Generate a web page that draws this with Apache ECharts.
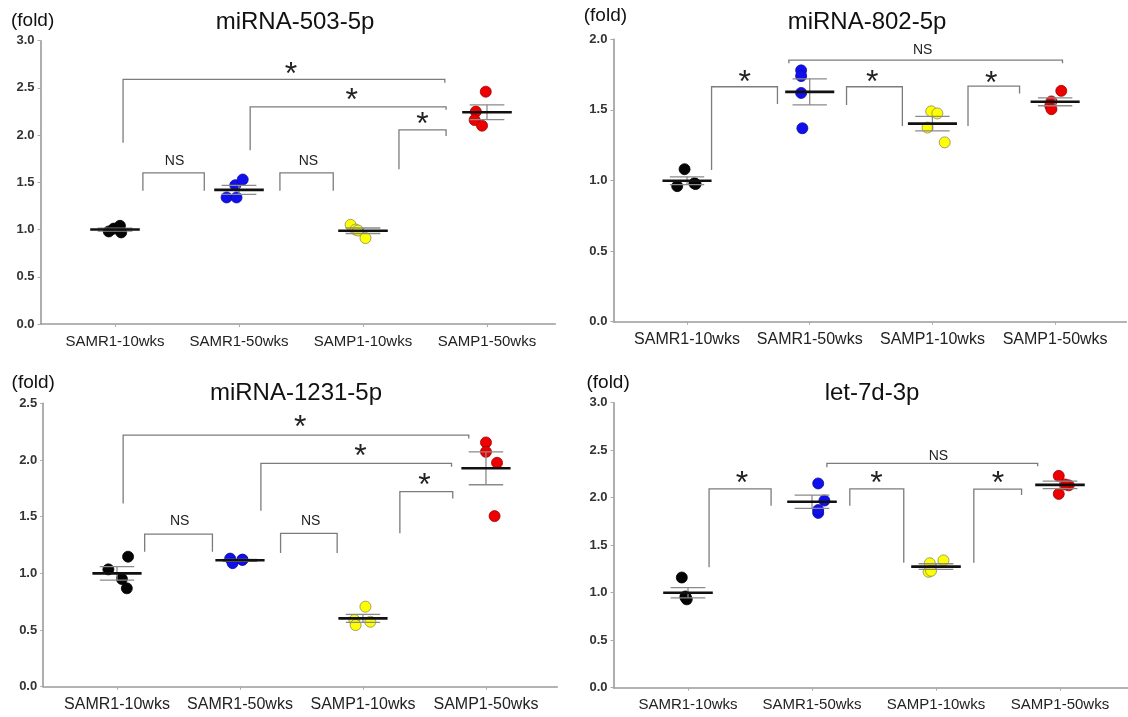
<!DOCTYPE html>
<html>
<head>
<meta charset="utf-8">
<script src="https://cdn.jsdelivr.net/npm/echarts@6/dist/echarts.min.js"></script>
<style>
  html, body { margin: 0; padding: 0; background: #fff; }
  #chart { width: 1128px; height: 717px; }
</style>
</head>
<body>
<div id="chart"></div>
<script>
// ---- data ----
const categories = ['SAMR1-10wks', 'SAMR1-50wks', 'SAMP1-10wks', 'SAMP1-50wks'];
const titles = ['miRNA-503-5p', 'miRNA-802-5p', 'miRNA-1231-5p', 'let-7d-3p'];
const yMax = [3.0, 2.0, 2.5, 3.0];
const yStep = 0.5;

// relative expression (fold), one row per group, 4 animals each
const mir503Values = [[0.98, 1.01, 1.04, 0.97], [1.34, 1.34, 1.47, 1.53], [1.05, 1.00, 0.99, 0.91], [2.46, 2.25, 2.16, 2.10]];
const mir802Values = [[1.08, 0.96, 0.98, 0.975], [1.78, 1.74, 1.62, 1.37], [1.49, 1.475, 1.375, 1.27], [1.635, 1.56, 1.53, 1.505]];
const mir1231Values = [[1.035, 1.147, 0.95, 0.868], [1.13, 1.09, 1.12, 1.12], [0.706, 0.588, 0.544, 0.573], [2.155, 2.072, 1.975, 1.505]];
const let7dValues = [[1.16, 0.95, 0.93, 0.96], [2.15, 1.97, 1.84, 1.87], [1.31, 1.34, 1.22, 1.23], [2.23, 2.13, 2.04, 2.14]];

// horizontal spread of each dot inside its group (category units)
const mir503Jitter = [[-0.05, -0.01, 0.04, 0.05], [-0.10, -0.02, -0.03, 0.03], [-0.10, -0.06, -0.04, 0.02], [-0.01, -0.09, -0.10, -0.04]];
const mir802Jitter = [[-0.02, -0.08, 0.06, 0.07], [-0.07, -0.07, -0.07, -0.06], [-0.01, 0.04, -0.04, 0.10], [0.05, -0.03, -0.04, -0.03]];
const mir1231Jitter = [[-0.07, 0.09, 0.04, 0.08], [-0.08, -0.06, 0.02, 0.02], [0.02, -0.07, -0.06, 0.06], [0.0, 0.0, 0.09, 0.07]];
const let7dJitter = [[-0.05, -0.02, -0.01, -0.02], [0.05, 0.10, 0.05, 0.05], [-0.05, 0.06, -0.06, -0.04], [-0.01, 0.07, -0.01, 0.04]];

// significance brackets: [xLeft, yLeftEnd, yTop, xRight, yRightEnd]
const mir503Brackets = [[0.065, 1.92, 2.59, 2.66, 2.556], [1.09, 1.84, 2.30, 2.67, 2.27], [2.29, 1.64, 2.055, 2.67, 1.99], [0.225, 1.41, 1.60, 0.72, 1.41], [1.33, 1.41, 1.60, 1.76, 1.41]];
const mir802Brackets = [[0.20, 1.074, 1.664, 0.737, 1.542], [1.30, 1.535, 1.664, 1.755, 1.386], [2.29, 1.386, 1.669, 2.71, 1.617], [0.83, 1.83, 1.853, 3.06, 1.83]];
const mir1231Brackets = [[0.05, 1.617, 2.22, 2.86, 2.19], [1.17, 1.552, 1.97, 2.72, 1.94], [2.30, 1.353, 1.72, 2.73, 1.66], [0.225, 1.19, 1.346, 0.776, 1.19], [1.33, 1.18, 1.352, 1.79, 1.18]];
const let7dBrackets = [[0.17, 1.267, 2.092, 0.67, 1.916], [1.305, 1.916, 2.092, 1.74, 1.316], [2.305, 1.316, 2.09, 2.69, 2.028], [1.12, 2.32, 2.362, 2.82, 2.33]];

// significance marks: [text, x, y]
const mir503Marks = [['*', 1.42, 2.71], ['*', 1.91, 2.44], ['*', 2.48, 2.18], ['NS', 0.48, 1.72], ['NS', 1.56, 1.72]];
const mir802Marks = [['*', 0.47, 1.74], ['*', 1.51, 1.74], ['*', 2.48, 1.735], ['NS', 1.92, 1.924]];
const mir1231Marks = [['*', 1.49, 2.35], ['*', 1.98, 2.087], ['*', 2.50, 1.838], ['NS', 0.51, 1.461], ['NS', 1.575, 1.461]];
const let7dMarks = [['*', 0.435, 2.22], ['*', 1.52, 2.22], ['*', 2.50, 2.22], ['NS', 2.02, 2.44]];

// ---- layout & style ----
const panels = [
  { values: mir503Values, jitter: mir503Jitter, brackets: mir503Brackets, marks: mir503Marks,
    grid: { left: 40.6, top: 40.7, width: 514.6, height: 283.3 }, xMax: 3.55, labelSize: 15,
    title: [295, 22], foldGap: 20, foldShift: 16 },
  { values: mir802Values, jitter: mir802Jitter, brackets: mir802Brackets, marks: mir802Marks,
    grid: { left: 613.4, top: 39.3, width: 512.9, height: 282.4 }, xMax: 3.58, labelSize: 16,
    title: [867, 22], foldGap: 24, foldShift: 16 },
  { values: mir1231Values, jitter: mir1231Jitter, brackets: mir1231Brackets, marks: mir1231Marks,
    grid: { left: 43.2, top: 403.3, width: 514.1, height: 283.4 }, xMax: 3.58, labelSize: 16,
    title: [296, 393], foldGap: 21, foldShift: 20 },
  { values: let7dValues, jitter: let7dJitter, brackets: let7dBrackets, marks: let7dMarks,
    grid: { left: 613.6, top: 402.7, width: 514.6, height: 285 }, xMax: 3.55, labelSize: 15,
    title: [872, 393], foldGap: 19.5, foldShift: 11 }
];
const xMin = -0.6;
const dotFill = ['#050505', '#1010ee', '#ffff00', '#ee0000'];
const dotBorder = ['#000000', '#0a0aa0', '#8a8a5a', '#9a0000'];
const FONT = '"Liberation Sans", Arial, sans-serif';

function mean(a) { return a.reduce((s, v) => s + v, 0) / a.length; }
function sem(a) {
  const m = mean(a);
  const sd = Math.sqrt(a.reduce((s, v) => s + (v - m) * (v - m), 0) / (a.length - 1));
  return sd / Math.sqrt(a.length);
}

const grids = [], xAxes = [], yAxes = [], series = [], graphics = [];

panels.forEach((p, i) => {
  grids.push(Object.assign({ outerBoundsMode: 'none', containLabel: false }, p.grid));

  xAxes.push({
    type: 'value', gridIndex: i, min: xMin, max: p.xMax,
    axisLine: { show: true, onZero: false, lineStyle: { color: '#9a9a9a', width: 1.6 } },
    axisTick: { show: true, customValues: [0, 1, 2, 3], length: 3, lineStyle: { color: '#aaa' } },
    axisLabel: {
      customValues: [0, 1, 2, 3], margin: 10,
      formatter: v => categories[Math.round(v)] || '',
      color: '#222', fontSize: p.labelSize, fontFamily: FONT
    },
    splitLine: { show: false }
  });

  yAxes.push({
    type: 'value', gridIndex: i, min: 0, max: yMax[i], interval: yStep,
    name: '(fold)', nameLocation: 'end', nameGap: p.foldGap,
    nameTextStyle: { fontSize: 19, color: '#111', fontFamily: FONT, align: 'center', verticalAlign: 'middle',
      padding: [0, p.foldShift, 0, 0] },
    axisLine: { show: true, onZero: false, lineStyle: { color: '#9a9a9a', width: 1.6 } },
    axisTick: { show: true, length: 3, lineStyle: { color: '#aaa' } },
    axisLabel: { formatter: v => v.toFixed(1), color: '#333', fontWeight: 'bold', fontSize: 13, margin: 6, fontFamily: FONT },
    splitLine: { show: false }
  });

  // individual animals
  const dots = [];
  p.values.forEach((grp, g) => {
    grp.forEach((v, k) => {
      dots.push({ value: [g + p.jitter[g][k], v],
        itemStyle: { color: dotFill[g], borderColor: dotBorder[g], borderWidth: 0.8, opacity: 1 } });
    });
  });
  series.push({ type: 'scatter', xAxisIndex: i, yAxisIndex: i, symbolSize: 11, data: dots, z: 2, silent: true,
    itemStyle: { opacity: 1 } });

  // mean ± SEM
  series.push({
    type: 'custom', xAxisIndex: i, yAxisIndex: i, z: 3, silent: true,
    data: p.values.map((grp, g) => [g, mean(grp), sem(grp)]),
    encode: { x: 0, y: 1 },
    renderItem: (params, api) => {
      const g = api.value(0), m = api.value(1), s = api.value(2);
      const c = api.coord([g, m]);
      const hi = api.coord([g, m + s])[1], lo = api.coord([g, m - s])[1];
      const l = api.coord([g - 0.2, m])[0], r = api.coord([g + 0.2, m])[0];
      const cl = api.coord([g - 0.14, m])[0], cr = api.coord([g + 0.14, m])[0];
      const grey = { stroke: '#8a8a8a', lineWidth: 1.3 };
      return { type: 'group', children: [
        { type: 'line', shape: { x1: c[0], y1: hi, x2: c[0], y2: lo }, style: grey },
        { type: 'line', shape: { x1: cl, y1: hi, x2: cr, y2: hi }, style: grey },
        { type: 'line', shape: { x1: cl, y1: lo, x2: cr, y2: lo }, style: grey },
        { type: 'line', shape: { x1: l, y1: c[1], x2: r, y2: c[1] }, style: { stroke: '#111', lineWidth: 2.6 } }
      ] };
    }
  });

  // comparison brackets
  series.push({
    type: 'custom', xAxisIndex: i, yAxisIndex: i, z: 1, silent: true,
    data: p.brackets, encode: { x: [0, 3], y: [1, 2, 4] },
    renderItem: (params, api) => {
      const a = api.coord([api.value(0), api.value(1)]);
      const b = api.coord([api.value(0), api.value(2)]);
      const c = api.coord([api.value(3), api.value(2)]);
      const d = api.coord([api.value(3), api.value(4)]);
      return { type: 'polyline', shape: { points: [a, b, c, d] },
        style: { stroke: '#7c7c7c', lineWidth: 1.3, fill: null } };
    }
  });

  // significance labels
  series.push({
    type: 'custom', xAxisIndex: i, yAxisIndex: i, z: 4, silent: true,
    data: p.marks.map(m => [m[1], m[2]]), encode: { x: 0, y: 1 },
    renderItem: (params, api) => {
      const txt = p.marks[params.dataIndex][0];
      const pt = api.coord([api.value(0), api.value(1)]);
      const star = txt === '*';
      return { type: 'text', x: pt[0], y: pt[1] + (star ? 7.5 : 0),
        style: { text: txt, fill: '#222', textAlign: 'center', textVerticalAlign: 'middle',
          font: (star ? '32px ' : '14px ') + FONT } };
    }
  });

  graphics.push({ type: 'text', x: p.title[0], y: p.title[1],
    style: { text: titles[i], fill: '#111', font: '24px ' + FONT, textAlign: 'center', textVerticalAlign: 'middle' } });
});

const chart = echarts.init(document.getElementById('chart'), null, { renderer: 'canvas' });
chart.setOption({
  animation: false,
  backgroundColor: '#fff',
  grid: grids,
  xAxis: xAxes,
  yAxis: yAxes,
  series: series,
  graphic: graphics
});
</script>
</body>
</html>
